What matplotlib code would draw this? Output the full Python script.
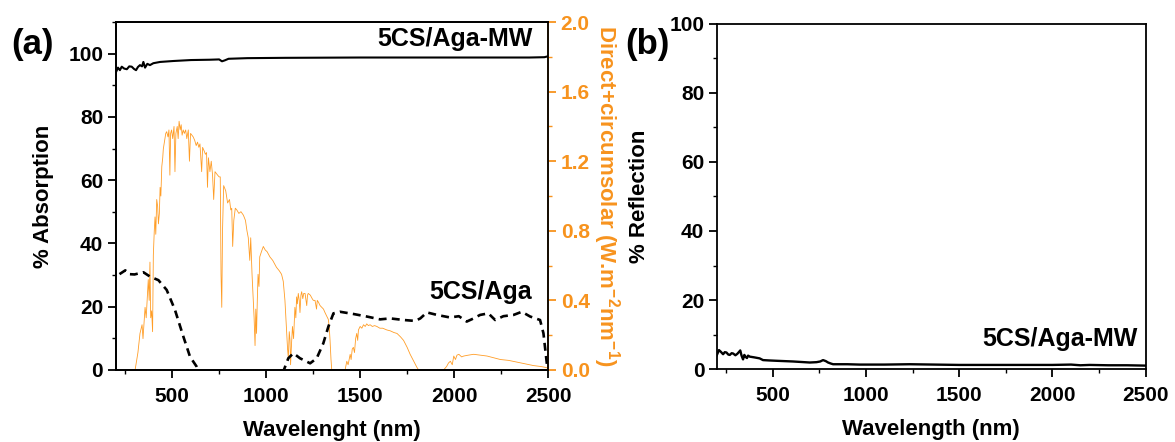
import matplotlib

matplotlib.use("Agg")
import matplotlib.pyplot as plt
import numpy as np
from matplotlib.ticker import AutoMinorLocator, FormatStrFormatter, MultipleLocator

plt.rcParams.update(
    {
        "font.family": "Liberation Sans",
        "font.weight": "bold",
        "font.size": 15,
        "axes.linewidth": 1.3,
        "axes.labelweight": "bold",
        "mathtext.fontset": "custom",
        "mathtext.rm": "Liberation Sans:bold",
        "mathtext.bf": "Liberation Sans:bold",
        "mathtext.default": "bf",
    }
)

ORANGE = "#f7931e"
LINE_ORANGE = "#ff8c00"

# 5CS/Aga-MW absorption (%)
absorb_mw_nm = [200, 212, 222, 232, 245, 259, 272, 285, 297, 308, 318, 329, 340,
                347, 356, 368, 382, 400, 436, 507, 600, 700, 750, 765, 780, 800,
                900, 1100, 1500, 2000, 2400, 2480, 2500]
absorb_mw = [94.0, 95.6, 94.8, 95.9, 95.3, 95.1, 96.0, 95.9, 95.2, 94.8, 95.8,
             96.4, 96.0, 97.4, 95.6, 96.8, 96.4, 97.0, 97.4, 97.7, 98.0, 98.1,
             98.2, 97.6, 97.9, 98.4, 98.6, 98.7, 98.8, 98.8, 98.8, 98.9, 99.2]

# 5CS/Aga absorption (%), dips below zero between ~640 and ~1090 nm
absorb_nm = [220, 251, 270, 300, 347, 383, 427, 471, 515, 560, 595, 631, 645,
             860, 1088, 1118, 1145, 1180, 1234, 1269, 1304, 1331, 1358, 1393,
             1464, 1535, 1606, 1660, 1731, 1793, 1820, 1855, 1909, 1978, 2025,
             2067, 2100, 2138, 2182, 2218, 2262, 2316, 2360, 2404, 2457, 2475,
             2489, 2497]
absorb = [30.3, 31.5, 30.3, 30.2, 30.9, 29.5, 28.4, 25.3, 19.0, 10.5, 4.2, 1.0,
          -1.0, np.nan, -1.0, 3.7, 5.3, 3.7, 2.1, 3.7, 8.4, 13.7, 17.9, 18.4,
          17.7, 16.9, 16.0, 16.3, 15.8, 15.5, 16.3, 18.2, 17.4, 16.6, 17.0,
          15.3, 16.2, 17.4, 17.9, 15.8, 17.0, 17.4, 18.4, 16.9, 15.8, 11.6,
          4.2, 0.0]

# direct + circumsolar solar irradiance (W m^-2 nm^-1)
solar_nm = [280, 303, 318, 329, 340, 345, 356, 362, 373, 378, 382, 386, 391,
            396, 400, 405, 409, 413, 418, 423, 427, 432, 436, 440, 445, 450,
            453, 460, 466, 471, 478, 483, 488, 492, 497, 503, 510, 515, 520,
            527, 532, 537, 543, 548, 553, 559, 565, 572, 578, 586, 592, 598,
            605, 612, 620, 628, 635, 642, 648, 657, 662, 670, 677, 683, 688,
            693, 701, 708, 715, 721, 728, 735, 742, 750, 756, 760, 764, 768,
            774, 785, 795, 805, 812, 817, 822, 828, 836, 844, 855, 866, 879,
            890, 898, 905, 913, 918, 925, 931, 936, 941, 945, 949, 953, 957,
            962, 966, 975, 985, 995, 1005, 1020, 1035, 1055, 1070, 1082, 1091,
            1100, 1105, 1109, 1114, 1118, 1123, 1127, 1130, 1135, 1140, 1146,
            1153, 1158, 1162, 1166, 1171, 1176, 1180, 1185, 1189, 1195, 1200,
            1207, 1212, 1216, 1220, 1224, 1235, 1245, 1251, 1260, 1268, 1272,
            1278, 1287, 1296, 1305, 1313, 1322, 1331, 1336, 1340, 1345, 1349,
            1420, 1429, 1436, 1447, 1452, 1458, 1464, 1470, 1476, 1482, 1487,
            1491, 1500, 1509, 1518, 1527, 1535, 1544, 1553, 1565, 1577, 1589,
            1605, 1620, 1642, 1660, 1680, 1696, 1715, 1731, 1750, 1766, 1785,
            1802, 1811, 1944, 1960, 1970, 1980, 1990, 1998, 2007, 2015, 2025,
            2040, 2051, 2075, 2104, 2140, 2175, 2210, 2246, 2290, 2335, 2380,
            2423, 2460, 2485, 2500]
solar = [0.0, 0.0, 0.10, 0.21, 0.26, 0.18, 0.36, 0.30, 0.52, 0.40, 0.62, 0.30,
         0.34, 0.22, 0.66, 0.80, 0.88, 0.78, 0.98, 0.94, 0.84, 0.90, 1.05,
         1.00, 1.17, 1.22, 1.27, 1.32, 1.36, 1.37, 1.34, 1.38, 1.12, 1.36,
         1.38, 1.33, 1.40, 1.14, 1.36, 1.40, 1.33, 1.43, 1.38, 1.41, 1.35,
         1.38, 1.36, 1.38, 1.33, 1.38, 1.20, 1.36, 1.35, 1.34, 1.32, 1.29,
         1.31, 1.28, 1.30, 1.14, 1.28, 1.26, 1.24, 1.25, 1.05, 1.22, 1.14,
         1.20, 1.12, 0.98, 1.14, 1.13, 1.12, 1.11, 1.11, 0.55, 0.36, 0.80,
         1.06, 1.03, 0.96, 0.98, 0.92, 0.93, 0.71, 0.86, 0.93, 0.92, 0.90,
         0.91, 0.89, 0.86, 0.80, 0.76, 0.63, 0.76, 0.55, 0.42, 0.30, 0.14,
         0.35, 0.21, 0.40, 0.55, 0.48, 0.65, 0.68, 0.71, 0.69, 0.68, 0.65,
         0.63, 0.59, 0.57, 0.55, 0.51, 0.40, 0.30, 0.21, 0.12, 0.07, 0.22,
         0.17, 0.03, 0.15, 0.25, 0.18, 0.36, 0.30, 0.42, 0.38, 0.44, 0.40,
         0.33, 0.43, 0.45, 0.41, 0.44, 0.44, 0.40, 0.37, 0.43, 0.44, 0.43,
         0.41, 0.40, 0.40, 0.35, 0.40, 0.39, 0.37, 0.36, 0.35, 0.33, 0.31,
         0.29, 0.24, 0.17, 0.06, 0.0, 0.0, 0.05, 0.03, 0.09, 0.06, 0.12,
         0.13, 0.10, 0.18, 0.21, 0.17, 0.23, 0.25, 0.24, 0.26, 0.25, 0.265,
         0.255, 0.26, 0.25, 0.255, 0.25, 0.24, 0.24, 0.23, 0.225, 0.215, 0.21,
         0.19, 0.17, 0.13, 0.09, 0.05, 0.015, 0.0, 0.0, 0.02, 0.04, 0.05,
         0.03, 0.08, 0.06, 0.085, 0.09, 0.075, 0.08, 0.085, 0.09, 0.085, 0.08,
         0.07, 0.06, 0.055, 0.045, 0.035, 0.025, 0.02, 0.015, 0.01]

# 5CS/Aga-MW reflection (%)
refl_nm = [200, 212, 222, 234, 243, 252, 262, 270, 280, 288, 300, 310, 320,
           326, 333, 341, 348, 355, 362, 368, 377, 400, 430, 448, 480, 520,
           609, 699, 735, 755, 770, 785, 797, 812, 824, 900, 967, 1100, 1235,
           1500, 1800, 2000, 2100, 2150, 2200, 2300, 2400, 2500]
refl = [4.0, 5.5, 5.0, 4.3, 4.9, 4.8, 4.2, 4.1, 4.6, 4.5, 4.0, 4.4, 5.0, 5.4,
        3.9, 2.8, 4.1, 3.5, 3.2, 3.9, 3.6, 3.4, 3.1, 2.6, 2.5, 2.4, 2.2, 1.9,
        2.0, 2.2, 2.6, 2.3, 1.9, 1.6, 1.4, 1.4, 1.3, 1.3, 1.4, 1.2, 1.2, 1.2,
        1.3, 1.1, 1.2, 1.1, 1.1, 1.0]


def style_ticks(ax, ymajor, yminor):
    ax.xaxis.set_major_locator(MultipleLocator(500))
    ax.xaxis.set_minor_locator(AutoMinorLocator(2))
    ax.yaxis.set_major_locator(MultipleLocator(ymajor))
    ax.yaxis.set_minor_locator(MultipleLocator(yminor))
    ax.tick_params(which="major", direction="out", length=6, width=1.3, pad=3)
    ax.tick_params(which="minor", direction="out", length=3, width=1.0)
    ax.tick_params(top=False, right=False, which="both")
    ax.tick_params(axis="x", which="major", pad=6)


fig = plt.figure(figsize=(11.75, 4.42), dpi=100)

# (a) absorption with solar spectrum on twin axis
ax1 = fig.add_axes([0.0985, 0.163, 0.368, 0.787])
ax2 = ax1.twinx()
ax2.plot(solar_nm, solar, color=LINE_ORANGE, lw=0.6, alpha=0.85)
ax1.plot(absorb_mw_nm, absorb_mw, color="black", lw=1.5)
ax1.plot(absorb_nm, absorb, color="black", lw=1.9, linestyle=(0, (3, 2)))
ax1.set_zorder(ax2.get_zorder() + 1)
ax1.patch.set_visible(False)

ax1.set_xlim(200, 2500)
ax1.set_ylim(0, 110)
ax2.set_ylim(0, 2.0)
style_ticks(ax1, 20, 10)
ax1.set_xlabel("Wavelenght (nm)", fontsize=16, labelpad=10)
ax1.set_ylabel("% Absorption", fontsize=16, labelpad=10)

ax2.yaxis.set_major_locator(MultipleLocator(0.4))
ax2.yaxis.set_minor_locator(MultipleLocator(0.2))
ax2.yaxis.set_major_formatter(FormatStrFormatter("%.1f"))
ax2.tick_params(which="major", direction="out", length=6, width=1.3, pad=3,
                colors=ORANGE)
ax2.tick_params(which="minor", direction="out", length=3, width=1.0,
                colors=ORANGE)
ax2.spines["right"].set_color(ORANGE)
ax2.spines["right"].set_linewidth(1.3)
ax2.set_ylabel("Direct+circumsolar (W.m$^{-2}$nm$^{-1}$)", color=ORANGE,
               fontsize=16, rotation=270, va="bottom", labelpad=1)

ax1.text(0.965, 0.952, "5CS/Aga-MW", transform=ax1.transAxes, ha="right",
         va="center", fontsize=18)
ax1.text(0.963, 0.224, "5CS/Aga", transform=ax1.transAxes, ha="right",
         va="center", fontsize=18)

# (b) reflection
ax3 = fig.add_axes([0.610, 0.165, 0.365, 0.781])
ax3.plot(refl_nm, refl, color="black", lw=1.7)
ax3.set_xlim(200, 2500)
ax3.set_ylim(0, 100)
style_ticks(ax3, 20, 10)
ax3.set_xlabel("Wavelength (nm)", fontsize=16, labelpad=10)
ax3.set_ylabel("% Reflection", fontsize=16, labelpad=14)
ax3.text(0.981, 0.087, "5CS/Aga-MW", transform=ax3.transAxes, ha="right",
         va="center", fontsize=18)

fig.text(0.028, 0.90, "(a)", fontsize=25, ha="center", va="center")
fig.text(0.551, 0.90, "(b)", fontsize=25, ha="center", va="center")

fig.savefig("out.png", dpi=100)
